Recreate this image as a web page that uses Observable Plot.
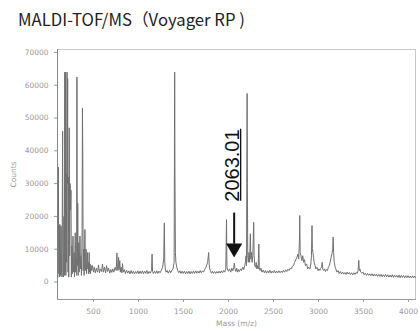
<!DOCTYPE html>
<html>
<head>
<meta charset="utf-8">
<script src="https://cdn.jsdelivr.net/npm/d3@7"></script>
<script src="https://cdn.jsdelivr.net/npm/@observablehq/plot@0.6"></script>
<style>
  html, body { margin: 0; padding: 0; background: #fff; }
  #wrap { position: relative; width: 420px; height: 331px; overflow: hidden; }
  #title { position: absolute; left: 18px; top: 11px; font-family: "Noto Sans CJK JP", "Noto Sans", sans-serif; font-size: 16.7px; line-height: 1; color: #222; white-space: nowrap; }
  #chart { position: absolute; left: 0; top: 0; }
</style>
</head>
<body>
<div id="wrap">
  <div id="chart"></div>
  <div id="title">MALDI-TOF/MS（Voyager RP )</div>
</div>
<script>
// Spectrum: [mass (m/z), counts]
const lowMassPeaks = [
  [104,1500],[110,35000],[112,17500],[116,2500],[119,17500],[123,1500],[127,17500],[131,12000],[135,1800],
  [140,17000],[145,3000],[150,1500],[157,46000],[161,3000],[166,1500],[172,20000],[176,2000],[181,64000],
  [185,3000],[189,64000],[193,2000],[197,33000],[201,6000],[206,64000],[209,30000],[213,62000],[217,3000],
  [221,32000],[225,1500],[231,47000],[235,8000],[240,30000],[245,22000],[250,28000],[254,1500],[259,11000],
  [264,2500],[272,14000],[277,3000],[284,9000],[289,1500],[297,15000],[302,3000],[308,7000],[312,2000],
  [316,62500],[320,5000],[325,24000],[330,2000],[336,12000],[341,3000],[350,14000],[355,4000],[361,8000],
  [366,2000],[373,14000],[377,53000],[381,39000],[385,3500],[391,10000],[396,2000],[405,16000],[410,3500],
  [418,10000],[423,2500],[432,9000],[437,4000],[442,6000],[447,2500],[452,9000],[456,3000],[462,5500],
  [467,2500],[474,5000]
];
const midMassPeaks = [
  [480,3500],[490,5000],[500,3000],[510,4500],[520,2800],[532,4200],[545,3000],[556,5200],[566,2800],
  [578,4000],[590,3200],[600,5500],[610,3000],[622,4500],[634,2800],[645,5000],[656,3200],[668,4200],
  [680,2700],[692,3800],[703,2900],[714,4000],[726,3000],[740,4500],[752,3500],[760,8800],[765,4500],
  [772,3500],[779,7500],[784,3800],[792,6500],[798,3000],[807,4500],[815,2800],[822,5600],[830,3000],
  [842,3800],[855,2600],[867,3600],[880,2700],[893,3400],[906,2500],[918,3500],[930,2600],[943,3300],
  [955,2500],[968,3200],[980,2600],[993,3400],[1005,2500],[1018,3300],[1030,2600],[1043,3400],[1055,2500],
  [1068,3300],[1080,2600],[1093,3500],[1105,2500],[1118,3200],[1130,2700],[1145,3500],[1151,8500],
  [1156,3200],[1165,2600],[1178,3300],[1190,2600],[1203,3400],[1215,2600],[1228,3300],[1240,2800],
  [1255,3600],[1268,4500],[1280,7000],[1287,18000],[1292,6000],[1298,4000],[1307,3000],[1318,3500],
  [1330,2700],[1345,3500],[1358,2800],[1370,3500],[1385,4200],[1396,6000],[1402,64000],[1405,33000],
  [1410,9000],[1416,6000],[1425,4500],[1436,3500],[1448,2800],[1460,3400],[1472,2600],[1485,3300],
  [1497,2600],[1510,3300],[1523,2500],[1535,3200],[1548,2600],[1560,3300],[1573,2500],[1585,3200],
  [1598,2600],[1610,3300],[1623,2600],[1636,3400],[1648,2700],[1660,3300],[1673,2700],[1685,3500],
  [1698,2800],[1710,3400],[1723,3000],[1735,3800],[1750,4500],[1768,6000],[1780,9000],[1785,5500],
  [1792,4000],[1800,3200],[1810,2700],[1820,3300],[1833,2600],[1845,3200],[1858,2600],[1870,3200],
  [1883,2700],[1895,3300],[1908,2700],[1920,3400],[1933,2800],[1945,3500],[1958,3000],[1970,4000],
  [1978,19000],[1983,4500],[1992,3500]
];
const highMassPeaks = [
  [2000,3300],[2012,4000],[2025,3000],[2037,4200],[2048,3400],[2058,4500],[2065,5800],[2072,4000],
  [2082,3200],[2092,4200],[2102,3000],[2112,3800],[2122,3200],[2135,4000],[2145,3500],[2158,4500],
  [2170,3800],[2180,5000],[2188,6000],[2195,8000],[2200,5000],[2207,57500],[2210,30000],[2214,8000],
  [2220,6000],[2228,9000],[2235,6000],[2243,14700],[2248,7000],[2256,9000],[2262,6000],[2270,8000],
  [2280,18200],[2285,8000],[2292,5000],[2300,4500],[2308,6000],[2315,4000],[2323,5000],[2330,4000],
  [2337,11600],[2342,4500],[2350,3500],[2360,4200],[2372,3000],[2385,3600],[2398,2800],[2410,3500],
  [2423,2700],[2435,3400],[2448,2800],[2460,3600],[2473,2700],[2485,3300],[2498,2800],[2510,3500],
  [2523,2700],[2535,3300],[2548,2800],[2560,3400],[2573,2800],[2585,3300],[2598,2900],[2610,3500],
  [2623,3000],[2635,3700],[2648,3200],[2660,3900],[2672,3500],[2685,4200],[2698,4000],[2710,4800],
  [2722,5000],[2735,6000],[2748,6800],[2760,7500],[2772,8500],[2780,7000],[2788,12000],[2792,20300],
  [2796,9000],[2805,8000],[2815,6500],[2825,8000],[2835,6000],[2845,6800],[2855,5000],[2868,5500],
  [2880,4000],[2893,4500],[2905,4000],[2915,5500],[2922,8000],[2928,17200],[2932,10200],[2938,9000],
  [2945,7500],[2952,6000],[2962,5000],[2972,4000],[2983,4500],[2995,3500],[3005,4000],[3015,3500],
  [3025,4200],[3035,4500],[3041,6000],[3048,4000],[3058,3500],[3068,4000],[3078,3200],[3090,3800],
  [3100,3500],[3110,4500],[3120,5000],[3130,6000],[3140,7500],[3150,8700],[3158,10000],[3163,13700],
  [3168,9000],[3175,6000],[3185,4500],[3195,3800],[3205,3000],[3218,3500],[3230,2600],[3243,3200],
  [3255,2500],[3268,3000],[3280,2400],[3293,2900],[3305,2300],[3318,3000],[3330,2400],[3343,2900],
  [3355,2300],[3368,2800],[3380,2200],[3393,2800],[3405,2300],[3418,2900],[3430,2600],[3440,3500],
  [3448,6600],[3453,3500],[3460,4000],[3470,3000],[3482,2700],[3495,3000],[3508,2200],[3520,2700],
  [3533,2000],[3545,2600],[3558,2000],[3570,2500],[3583,1900],[3595,2500],[3608,1800],[3620,2400],
  [3633,1800],[3645,2400],[3658,1700],[3670,2300],[3683,1700],[3695,2300],[3708,1600],[3720,2200],
  [3733,1600],[3745,2300],[3758,1600],[3770,2200],[3783,1500],[3795,2100],[3808,1500],[3820,2200],
  [3833,1400],[3845,2100],[3858,1500],[3870,2000],[3883,1400],[3895,2100],[3908,1300],[3920,2000],
  [3933,1400],[3945,2000],[3958,1300],[3970,1900],[3983,1300],[3995,1900],[4008,1300],[4020,1800],
  [4033,1200],[4045,1900],[4058,1300],[4070,1800],[4078,1400]
];
const xTicks = [500, 1000, 1500, 2000, 2500, 3000, 3500, 4000];
const yTicks = [0, 10000, 20000, 30000, 40000, 50000, 60000, 70000];
const annotation = [{label: "2063.01", mass: 2063}];

const spectrum = [...lowMassPeaks, ...midMassPeaks, ...highMassPeaks].map(([mass, counts]) => ({mass, counts}));

const chart = Plot.plot({
  width: 420,
  height: 331,
  marginLeft: 57,
  marginRight: 5,
  marginTop: 49,
  marginBottom: 32,
  style: {fontFamily: "'DejaVu Sans', sans-serif", fontSize: "7.5px", color: "#999", background: "transparent"},
  x: {domain: [100, 4078], ticks: xTicks, tickSize: 3, tickFormat: d3.format("d"), label: "Mass (m/z)", labelAnchor: "center", labelOffset: 26, labelArrow: "none"},
  y: {domain: [-5340, 70900], ticks: yTicks, tickSize: 3, tickFormat: d3.format("d"), label: "Counts", labelAnchor: "center", labelOffset: 47, labelArrow: "none"},
  marks: [
    Plot.frame({stroke: "#c8c8c8"}),
    Plot.frame({anchor: "left", stroke: "#888"}),
    Plot.frame({anchor: "bottom", stroke: "#999"}),
    Plot.line(spectrum, {x: "mass", y: "counts", stroke: "#707070", strokeWidth: 1}),
    Plot.ruleX(annotation, {x: "mass", y1: 21000, y2: 11500, stroke: "#111", strokeWidth: 2}),
    Plot.dot(annotation, {x: "mass", y: 10300, symbol: "triangle", r: 6, fill: "#111", stroke: "none", rotate: 180}),
    Plot.text(annotation, {x: "mass", y: 35500, text: "label", rotate: -90, dx: -2, fontSize: 20, fill: "#111", fontFamily: "'Liberation Sans', Arial, sans-serif"}),
    // underline of the rotated label
    Plot.ruleX(annotation, {x: "mass", y1: 46600, y2: 24600, dx: 6.5, stroke: "#111", strokeWidth: 1.3})
  ]
});
document.getElementById("chart").appendChild(chart);
</script>
</body>
</html>
